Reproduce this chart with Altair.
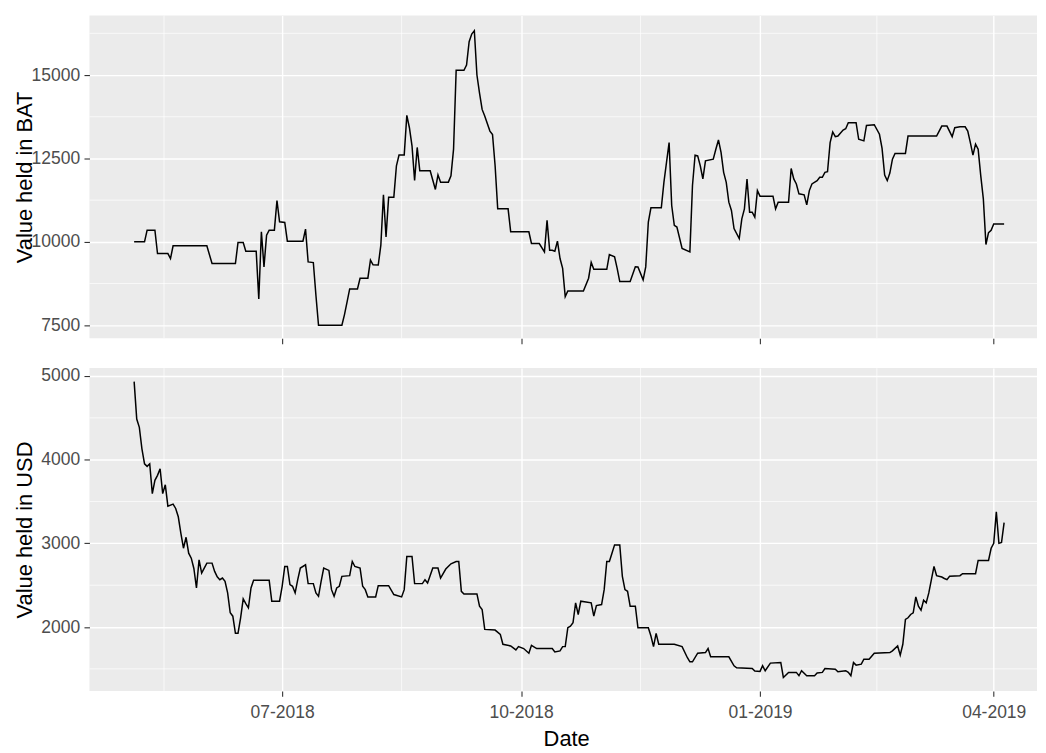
import altair as alt
import pandas as pd

START = "2018-05-05"

bat_day = [0, 4, 5, 8, 9, 13, 14, 15, 28, 30, 39, 40, 42, 43, 47, 48, 49, 50, 51, 52,
           54, 55, 56, 58, 59, 65, 66, 67, 69, 70, 71, 80, 81, 82, 83, 86, 87, 90, 91, 92,
           94, 95, 96, 97, 98, 100, 101, 102, 104, 105, 106, 107, 108, 109, 110, 114, 116, 117, 118, 121,
           122, 123, 124, 127, 128, 129, 130, 131, 132, 133, 134, 135, 137, 138, 139, 140, 144, 145, 152, 153,
           156, 158, 159, 160, 161, 162, 163, 164, 165, 166, 167, 173, 175, 176, 177, 182, 183, 185, 186, 187,
           191, 193, 194, 196, 197, 198, 199, 203, 204, 205, 206, 207, 208, 209, 211, 214, 215, 216, 217, 218,
           219, 220, 223, 224, 225, 226, 227, 228, 229, 230, 231, 233, 234, 235, 236, 237, 238, 239, 240, 241,
           246, 247, 248, 252, 253, 254, 255, 256, 258, 259, 260, 261, 263, 264, 265, 266, 267, 268, 269, 270,
           271, 273, 274, 275, 278, 279, 281, 282, 285, 287, 288, 289, 290, 291, 292, 293, 297, 298, 309, 311,
           313, 315, 316, 318, 320, 321, 322, 323, 324, 325, 326, 327, 328, 329, 330, 331, 335]
bat_value = [10000, 10000, 10350, 10350, 9650, 9650, 9500, 9880, 9880, 9350, 9350, 9980, 9980, 9720, 9720, 8290, 10300, 9250, 10200, 10350,
             10350, 11240, 10600, 10580, 10020, 10020, 10380, 9400, 9380, 8400, 7500, 7500, 7820, 8200, 8590, 8590, 8910, 8910, 9455, 9310,
             9305, 9900, 11410, 10150, 11340, 11340, 12280, 12600, 12600, 13790, 13420, 12880, 11840, 12830, 12130, 12130, 11570, 12010, 11790, 11790,
             11980, 12780, 15140, 15140, 15300, 16000, 16230, 16330, 15000, 14460, 13970, 13770, 13320, 13220, 12280, 10990, 10990, 10300, 10300, 9950,
             9950, 9700, 10645, 9750, 9750, 9720, 10020, 9500, 9205, 8360, 8530, 8530, 8910, 9385, 9176, 9176, 9620, 9550, 9205, 8810,
             8810, 9256, 9250, 8860, 9250, 10595, 11020, 11020, 11785, 12380, 12975, 11090, 10495, 10445, 9800, 9700, 11690, 12600, 12580, 12280,
             11885, 12430, 12480, 12777, 13055, 12680, 12083, 11785, 11190, 10940, 10400, 10100, 10690, 10990, 11885, 10890, 10890, 10740, 11537, 11370,
             11370, 10990, 11190, 11190, 12200, 11885, 11736, 11440, 11410, 11110, 11537, 11736, 11835, 11934, 11934, 12083, 12103, 12975, 13293, 13154,
             13170, 13352, 13392, 13570, 13570, 13075, 13026, 13490, 13510, 13225, 12800, 12000, 11835, 12063, 12480, 12650, 12650, 13170, 13170, 13470,
             13470, 13154, 13420, 13450, 13450, 13323, 12975, 12600, 12930, 12777, 11984, 11290, 9920, 10277, 10347, 10535, 10535]

usd_day = [0, 1, 2, 3, 4, 5, 6, 7, 8, 9, 10, 11, 12, 13, 15, 16, 17, 18, 19, 20,
           21, 22, 23, 24, 25, 26, 27, 28, 30, 31, 32, 33, 34, 35, 36, 37, 38, 39, 40, 41,
           42, 43, 44, 45, 46, 52, 53, 56, 57, 58, 59, 60, 61, 62, 63, 64, 66, 67, 69, 70,
           71, 72, 73, 75, 76, 77, 78, 79, 80, 83, 84, 85, 87, 88, 89, 90, 93, 94, 98, 100,
           103, 104, 105, 107, 108, 111, 112, 113, 115, 117, 118, 120, 122, 124, 125, 126, 127, 132, 133, 134,
           135, 139, 141, 142, 145, 147, 148, 150, 152, 153, 155, 161, 162, 164, 165, 166, 167, 168, 169, 170,
           171, 172, 176, 177, 178, 180, 181, 182, 183, 184, 185, 187, 188, 189, 190, 191, 193, 194, 198, 199,
           200, 201, 202, 208, 211, 213, 214, 215, 217, 220, 221, 222, 229, 231, 232, 238, 239, 241, 242, 243,
           245, 249, 250, 252, 255, 256, 257, 259, 262, 263, 265, 266, 270, 271, 274, 275, 276, 277, 278, 280,
           281, 283, 285, 291, 292, 294, 295, 296, 297, 298, 299, 300, 301, 302, 303, 304, 305, 306, 307, 308,
           309, 311, 312, 313, 314, 318, 319, 324, 325, 329, 330, 331, 332, 333, 334, 335]
usd_value = [4933, 4486, 4387, 4130, 3951, 3920, 3951, 3595, 3753, 3813, 3892, 3595, 3700, 3445, 3469, 3417, 3318, 3120, 2942, 3073,
             2883, 2823, 2700, 2467, 2803, 2645, 2705, 2764, 2764, 2665, 2600, 2566, 2586, 2546, 2408, 2170, 2130, 1925, 1925, 2110,
             2336, 2280, 2230, 2467, 2558, 2558, 2309, 2309, 2487, 2724, 2724, 2507, 2487, 2408, 2566, 2705, 2744, 2519, 2519, 2408,
             2368, 2546, 2705, 2677, 2447, 2368, 2467, 2487, 2606, 2614, 2784, 2724, 2705, 2487, 2447, 2360, 2360, 2495, 2495, 2388,
             2360, 2447, 2843, 2843, 2519, 2519, 2566, 2526, 2705, 2705, 2586, 2693, 2756, 2784, 2784, 2427, 2396, 2396, 2249, 2210,
             1972, 1964, 1913, 1794, 1774, 1727, 1766, 1743, 1687, 1782, 1743, 1743, 1703, 1715, 1766, 1766, 1992, 2010, 2051, 2289,
             2150, 2309, 2289, 2130, 2257, 2269, 2447, 2784, 2784, 2883, 2982, 2982, 2606, 2447, 2427, 2249, 2249, 1992, 1992, 1893,
             1766, 1925, 1794, 1794, 1766, 1636, 1584, 1584, 1687, 1695, 1743, 1644, 1644, 1537, 1513, 1505, 1474, 1470, 1537, 1478,
             1569, 1577, 1398, 1458, 1458, 1418, 1478, 1418, 1418, 1450, 1458, 1505, 1497, 1466, 1478, 1458, 1418, 1577, 1545, 1557,
             1616, 1616, 1687, 1695, 1715, 1774, 1664, 1794, 2091, 2111, 2150, 2170, 2360, 2249, 2202, 2321, 2289, 2408, 2566, 2724,
             2614, 2598, 2580, 2566, 2606, 2614, 2637, 2637, 2796, 2796, 2942, 3001, 3377, 3000, 3010, 3247]

x_major = [(2018, 7, 1), (2018, 10, 1), (2019, 1, 1), (2019, 4, 1)]
x_minor = ["2018-05-16T12:00", "2018-08-16T00:00", "2018-11-16T00:00", "2019-02-15T00:00"]
bat_major = [7500, 10000, 12500, 15000]
bat_minor = [8750, 11250, 13750, 16250]
usd_major = [2000, 3000, 4000, 5000]
usd_minor = [1500, 2500, 3500, 4500]

x_domain = [alt.DateTime(year=2018, month=4, date=17, hours=19),
            alt.DateTime(year=2019, month=4, date=17, hours=16)]
bat_domain = [7110, 16785]
usd_domain = [1237, 5095]

W, H = 954, 325
FONT = "Liberation Sans"


def to_dates(days):
    ts = pd.Timestamp(START) + pd.to_timedelta(days, unit="D")
    return [t.strftime("%Y-%m-%dT%H:%M") for t in ts]


def panel(days, values, y_major, y_minor, y_domain, y_title, show_x_labels):
    line_df = pd.DataFrame({"date": to_dates(days), "value": values, "idx": range(len(values))})
    xminor_df = pd.DataFrame({"date": x_minor})
    yminor_df = pd.DataFrame({"value": y_minor})

    x_axis = alt.Axis(
        values=[alt.DateTime(year=y, month=m, date=d) for (y, m, d) in x_major],
        format="%m-%Y",
        labels=show_x_labels,
        labelPadding=7.4,
        title="Date" if show_x_labels else None,
        titleX=480,
        titleBaseline="top",
        titlePadding=7.7,
    )
    X = alt.X("date:T", scale=alt.Scale(domain=x_domain), axis=x_axis)
    y_axis = alt.Axis(
        values=y_major,
        format="d",
        title=y_title,
        titleX=-58,
        titleY=H / 2,
        titleAngle=270,
        titleBaseline="alphabetic",
        titleAlign="center",
    )
    Y = alt.Y("value:Q", scale=alt.Scale(domain=y_domain, nice=False, zero=False), axis=y_axis)

    vminor = alt.Chart(xminor_df).mark_rule(color="white", strokeWidth=0.7).encode(x=X)
    hminor = alt.Chart(yminor_df).mark_rule(color="white", strokeWidth=0.7).encode(y=Y)
    line = alt.Chart(line_df).mark_line(color="black", strokeWidth=1.5).encode(
        x=X, y=Y, order="idx:Q"
    )
    return alt.layer(vminor, hminor, line).properties(width=W, height=H)


top = panel(bat_day, bat_value, bat_major, bat_minor, bat_domain, "Value held in BAT", False)
bottom = panel(usd_day, usd_value, usd_major, usd_minor, usd_domain, "Value held in USD", True)

chart = alt.vconcat(top, bottom, spacing=30, bounds="flush").properties(
    padding={"left": 6, "top": 4, "right": 0, "bottom": 0}
).configure_view(
    fill="#EBEBEB", strokeWidth=0
).configure_axis(
    grid=True,
    gridColor="white",
    gridWidth=1.4,
    domain=False,
    tickColor="#333333",
    tickSize=5.5,
    tickWidth=1.1,
    labelFont=FONT,
    labelFontSize=17.6,
    labelColor="#4D4D4D",
    labelPadding=4.4,
    titleFont=FONT,
    titleFontSize=22,
    titleFontWeight="normal",
    titleColor="black",
)

chart.save("out.html", embed_options={"renderer": "svg", "actions": False})
